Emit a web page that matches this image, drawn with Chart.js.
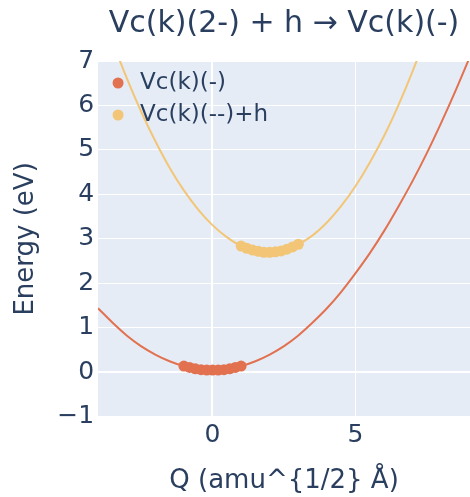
<!DOCTYPE html>
<html>
<head>
<meta charset="utf-8">
<script src="https://cdn.jsdelivr.net/npm/chart.js@4/dist/chart.umd.min.js"></script>
<style>
  html, body { margin: 0; padding: 0; background: #fff; overflow: hidden; }
  #wrap { width: 470px; height: 497px; }
</style>
</head>
<body>
<div id="wrap"><canvas id="chart"></canvas></div>
<script>
// fitted curves
const curveQ = [-4, -3.5, -3, -2.5, -2, -1.5, -1, -0.5, 0, 0.5, 1, 1.5, 2, 2.5, 3, 3.5, 4, 4.5, 5, 5.5, 6, 6.5, 7, 7.5, 8, 8.5, 9];
const lowerCurve = [1.44, 1.12, 0.83, 0.59, 0.40, 0.25, 0.14, 0.07, 0.05, 0.07, 0.14, 0.25, 0.40, 0.59, 0.83, 1.12, 1.44, 1.81, 2.23, 2.68, 3.18, 3.73, 4.31, 4.94, 5.62, 6.34, 7.10];
const upperCurve = [8.36, 7.45, 6.62, 5.87, 5.20, 4.60, 4.09, 3.66, 3.31, 3.04, 2.84, 2.73, 2.70, 2.75, 2.88, 3.08, 3.37, 3.74, 4.19, 4.72, 5.32, 6.01, 6.78, 7.63, 8.56, 9.56, 10.65];

// computed points
const lowerQ = [-1, -0.8, -0.6, -0.4, -0.2, 0, 0.2, 0.4, 0.6, 0.8, 1];
const lowerE = [0.14, 0.11, 0.08, 0.06, 0.05, 0.05, 0.05, 0.06, 0.08, 0.11, 0.14];
const upperQ = [1, 1.2, 1.4, 1.6, 1.8, 2, 2.2, 2.4, 2.6, 2.8, 3];
const upperE = [2.84, 2.79, 2.75, 2.72, 2.70, 2.70, 2.71, 2.73, 2.77, 2.82, 2.88];

const seriesNames = ["Vc(k)(-)", "Vc(k)(--)+h"];
const yTicks = [-1, 0, 1, 2, 3, 4, 5, 6, 7];

const RED = "rgb(226, 113, 80)";
const YELLOW = "rgb(242, 198, 118)";
const FONT = "'DejaVu Sans', Verdana, sans-serif";
const TEXT = "#2a3f5f";

function pts(xs, ys) {
  return xs.map((x, i) => ({ x: x, y: ys[i] }));
}

const plotBg = {
  id: "plotBg",
  beforeDraw(chart) {
    const { ctx, chartArea: a } = chart;
    ctx.save();
    ctx.fillStyle = "#E5ECF6";
    ctx.fillRect(a.left, a.top, a.right - a.left, a.bottom - a.top);
    ctx.restore();
  },
};

// plotly-like legend sitting inside the top-left of the plot
const innerLegend = {
  id: "innerLegend",
  afterDatasetsDraw(chart) {
    const { ctx, chartArea: a } = chart;
    ctx.save();
    ctx.font = "23px " + FONT;
    ctx.textBaseline = "middle";
    ctx.textAlign = "left";
    [0, 1].forEach((i) => {
      const ds = chart.data.datasets[i];
      const y = a.top + 22 + i * 32;
      ctx.fillStyle = ds.backgroundColor;
      ctx.beginPath();
      ctx.arc(a.left + 20, y, 5.5, 0, Math.PI * 2);
      ctx.fill();
      ctx.fillStyle = TEXT;
      ctx.fillText(ds.label, a.left + 42, y);
    });
    ctx.restore();
  },
};

const gridWidth = (c) => (c.tick && c.tick.value === 0 ? 2 : 1);

new Chart(document.getElementById("chart"), {
  type: "scatter",
  data: {
    datasets: [
      {
        label: seriesNames[0],
        data: pts(lowerQ, lowerE),
        backgroundColor: RED,
        borderColor: RED,
        pointRadius: 5.5,
        pointBorderWidth: 0,
        showLine: false,
      },
      {
        label: seriesNames[1],
        data: pts(upperQ, upperE),
        backgroundColor: YELLOW,
        borderColor: YELLOW,
        pointRadius: 5.5,
        pointBorderWidth: 0,
        showLine: false,
      },
      {
        label: "fit-lower",
        data: pts(curveQ, lowerCurve),
        showLine: true,
        borderColor: RED,
        borderWidth: 2,
        pointRadius: 0,
        cubicInterpolationMode: "monotone",
      },
      {
        label: "fit-upper",
        data: pts(curveQ, upperCurve),
        showLine: true,
        borderColor: YELLOW,
        borderWidth: 2,
        pointRadius: 0,
        cubicInterpolationMode: "monotone",
      },
    ],
  },
  options: {
    responsive: true,
    maintainAspectRatio: false,
    animation: false,
    layout: { padding: 0, autoPadding: false },
    plugins: {
      tooltip: { enabled: false },
      legend: { display: false },
      title: {
        display: true,
        text: "Vc(k)(2-) + h \u2192 Vc(k)(-)",
        color: TEXT,
        fullSize: false,
        font: { family: FONT, size: 30, weight: "normal" },
        padding: { top: 6, bottom: 19 },
      },
    },
    scales: {
      x: {
        type: "linear",
        min: -4,
        max: 9,
        border: { display: false },
        grid: { color: "#ffffff", lineWidth: gridWidth, drawTicks: false },
        ticks: {
          stepSize: 5,
          includeBounds: false,
          padding: 4,
          color: TEXT,
          font: { family: FONT, size: 25 },
        },
        title: {
          display: true,
          text: "Q (amu^{1/2} \u00C5)",
          color: TEXT,
          font: { family: FONT, size: 26 },
          padding: { top: 11, bottom: 0 },
        },
      },
      y: {
        type: "linear",
        min: -1,
        max: 7,
        border: { display: false },
        grid: { color: "#ffffff", lineWidth: gridWidth, drawTicks: false },
        afterBuildTicks: (scale) => {
          scale.ticks = yTicks.map((v) => ({ value: v }));
        },
        ticks: {
          padding: 4,
          color: TEXT,
          font: { family: FONT, size: 25 },
          callback: (v) => String(v).replace("-", "\u2212"),
        },
        title: {
          display: true,
          text: "Energy (eV)",
          color: TEXT,
          font: { family: FONT, size: 26 },
          padding: { top: 11, bottom: 11 },
        },
      },
    },
  },
  plugins: [plotBg, innerLegend],
});
</script>
</body>
</html>
